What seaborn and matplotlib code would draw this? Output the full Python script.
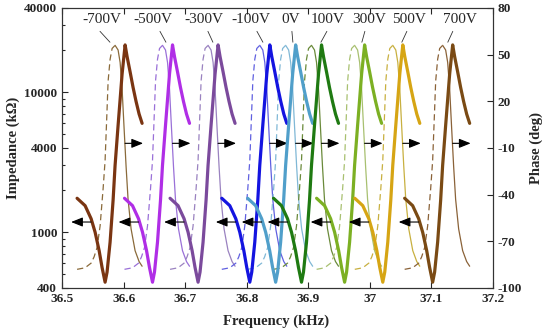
import numpy as np
import pandas as pd
import matplotlib
matplotlib.use("Agg")
import matplotlib.pyplot as plt
import seaborn as sns
from matplotlib.ticker import FixedLocator, LogLocator, NullFormatter

# ---------------- data ----------------
voltages = ["-700V", "-500V", "-300V", "-100V", "0V", "100V", "300V", "500V", "700V"]
# resonance (impedance minimum) frequency of each curve, kHz
res_freq = [36.570, 36.647, 36.721, 36.805, 36.847, 36.889, 36.959, 37.021, 37.102]

# impedance curve shape: frequency offset from resonance (kHz) and impedance (kOhm)
imp_offset = [-0.0455, -0.0325, -0.0227, -0.0162, -0.0097, -0.0049, 0.0, 0.0032, 0.0081,
              0.0130, 0.0162, 0.0211, 0.0276, 0.0325, 0.0357, 0.0406, 0.0455, 0.0503,
              0.0552, 0.0601]
imp_value = [1750, 1550, 1250, 1000, 740, 560, 440, 520, 850, 1700, 3000, 5800, 13500,
             21800, 18000, 14000, 10800, 8600, 7000, 6000]

# phase curve, rising branch (dashed) and falling branch (thin)
ph_rise_offset = [-0.0455, -0.0325, -0.0227, -0.0179, -0.0130, -0.0081, -0.0032, 0.0,
                  0.0032, 0.0049, 0.0081, 0.0114, 0.0162]
ph_rise_value = [-88, -87, -84, -80, -74, -60, -36, -18, 15, 33, 47, 54, 56]
ph_fall_offset = [0.0162, 0.0211, 0.0244, 0.0276, 0.0308, 0.0341, 0.0373, 0.0422, 0.0487,
                  0.0552, 0.0601]
ph_fall_value = [56, 53, 45, 28, 3, -22, -43, -62, -76, -83, -86]

imp_colors = ["#7a3512", "#b02ee6", "#7b4a9c", "#1414e0", "#509fca",
              "#1f7a12", "#7cb023", "#d6a514", "#7a4a14"]
ph_colors = ["#8a6a3a", "#9a70d8", "#9a82c0", "#6060e0", "#80b8d6",
             "#6a8a3a", "#a8c070", "#c8b040", "#8a6238"]

# label positions (kHz) and leader lines
label_x = [36.5649, 36.6477, 36.7305, 36.8068, 36.8718, 36.9318, 36.9984, 37.0633, 37.1461]
lead_x0 = [36.5617, 36.6591, 36.7370, 36.8166, 36.8734, 36.9302, 36.9919, 37.0601, 37.1347]
lead_x1 = [36.5779, 36.6688, 36.7451, 36.8263, 36.8750, 36.9205, 36.9870, 37.0519, 37.1266]

x_ticks = [36.5, 36.6, 36.7, 36.8, 36.9, 37.0, 37.1, 37.2]
x_tick_labels = ["36.5", "36.6", "36.7", "36.8", "36.9", "37", "37.1", "37.2"]
imp_ticks = [400, 1000, 4000, 10000, 40000]
ph_ticks = [-100, -70, -40, -10, 20, 50, 80]

# ---------------- style ----------------
sns.set_style("ticks")
plt.rcParams["font.family"] = ["Liberation Serif", "DejaVu Serif"]
plt.rcParams["axes.linewidth"] = 0.8
plt.rcParams["axes.edgecolor"] = "#333333"

fig = plt.figure(figsize=(5.5, 3.33), dpi=100)
ax = fig.add_axes([62 / 550, 1 - 288 / 333, (493 - 62) / 550, (288 - 8) / 333])
ax2 = ax.twinx()

ax.set_yscale("log")
ax.set_xlim(36.5, 37.2)
ax.set_ylim(400, 40000)
ax2.set_ylim(-100, 80)

rows_imp, rows_rise, rows_fall = [], [], []
for v, f0 in zip(voltages, res_freq):
    for o, z in zip(imp_offset, imp_value):
        rows_imp.append((v, f0 + o, z))
    for o, p in zip(ph_rise_offset, ph_rise_value):
        rows_rise.append((v, f0 + o, p))
    for o, p in zip(ph_fall_offset, ph_fall_value):
        rows_fall.append((v, f0 + o, p))
df_imp = pd.DataFrame(rows_imp, columns=["V", "f", "Z"])
df_rise = pd.DataFrame(rows_rise, columns=["V", "f", "P"])
df_fall = pd.DataFrame(rows_fall, columns=["V", "f", "P"])

for i, v in enumerate(voltages):
    sns.lineplot(data=df_rise[df_rise.V == v], x="f", y="P", ax=ax2, color=ph_colors[i],
                 lw=0.9, linestyle=(0, (5, 3)), sort=False, legend=False)
    sns.lineplot(data=df_fall[df_fall.V == v], x="f", y="P", ax=ax2, color=ph_colors[i],
                 lw=0.9, sort=False, legend=False)
for i, v in enumerate(voltages):
    sns.lineplot(data=df_imp[df_imp.V == v], x="f", y="Z", ax=ax, color=imp_colors[i],
                 lw=2.3, sort=False, legend=False)

ax.set_zorder(ax2.get_zorder() + 1)
ax.patch.set_visible(False)

# arrows
for i, f0 in enumerate(res_freq):
    ax2.annotate("", xy=(f0 + 0.0617, -7), xytext=(f0 + 0.0325, -7),
                 arrowprops=dict(arrowstyle="-|>,head_length=0.7,head_width=0.28",
                                 color="black", lw=0.8, shrinkA=0, shrinkB=0))
    ax.annotate("", xy=(f0 - 0.0552, 1184), xytext=(f0 - 0.0227, 1184),
                arrowprops=dict(arrowstyle="-|>,head_length=0.7,head_width=0.28",
                                color="black", lw=0.8, shrinkA=0, shrinkB=0))

# labels
for i, v in enumerate(voltages):
    ax2.text(label_x[i], 72.5, v, ha="center", va="center", fontsize=11)
    ax2.plot([lead_x0[i], lead_x1[i]], [65, 58], color="#333333", lw=0.6)

# axes formatting
ax.xaxis.set_major_locator(FixedLocator(x_ticks))
ax.set_xticklabels(x_tick_labels)
ax.yaxis.set_major_locator(FixedLocator(imp_ticks))
ax.set_yticklabels([str(t) for t in imp_ticks])
ax.yaxis.set_minor_locator(LogLocator(base=10, subs=np.arange(2, 10)))
ax.yaxis.set_minor_formatter(NullFormatter())
ax2.yaxis.set_major_locator(FixedLocator(ph_ticks))
ax2.set_yticklabels([str(t) for t in ph_ticks])

ax.tick_params(axis="both", which="both", direction="in", top=True, right=False,
               labelsize=9.5, width=0.8)
ax.tick_params(axis="y", which="major", length=4)
ax.tick_params(axis="y", which="minor", length=2)
ax.tick_params(axis="x", which="major", length=4)
ax2.tick_params(axis="y", direction="in", labelsize=9.5, length=4, width=0.8)
for lab in ax.get_xticklabels() + ax.get_yticklabels() + ax2.get_yticklabels():
    lab.set_fontweight("bold")

ax.set_xlabel("Frequency (kHz)", fontsize=10.5, fontweight="bold")
ax.set_ylabel("Impedance (kΩ)", fontsize=10.5, fontweight="bold")
ax2.set_ylabel("Phase (deg)", fontsize=10.5, fontweight="bold")
ax.yaxis.set_label_coords(-0.098, 0.5)
ax2.yaxis.set_label_coords(1.085, 0.5)
ax.xaxis.set_label_coords(0.497, -0.095)

fig.savefig("out.png", dpi=100)
